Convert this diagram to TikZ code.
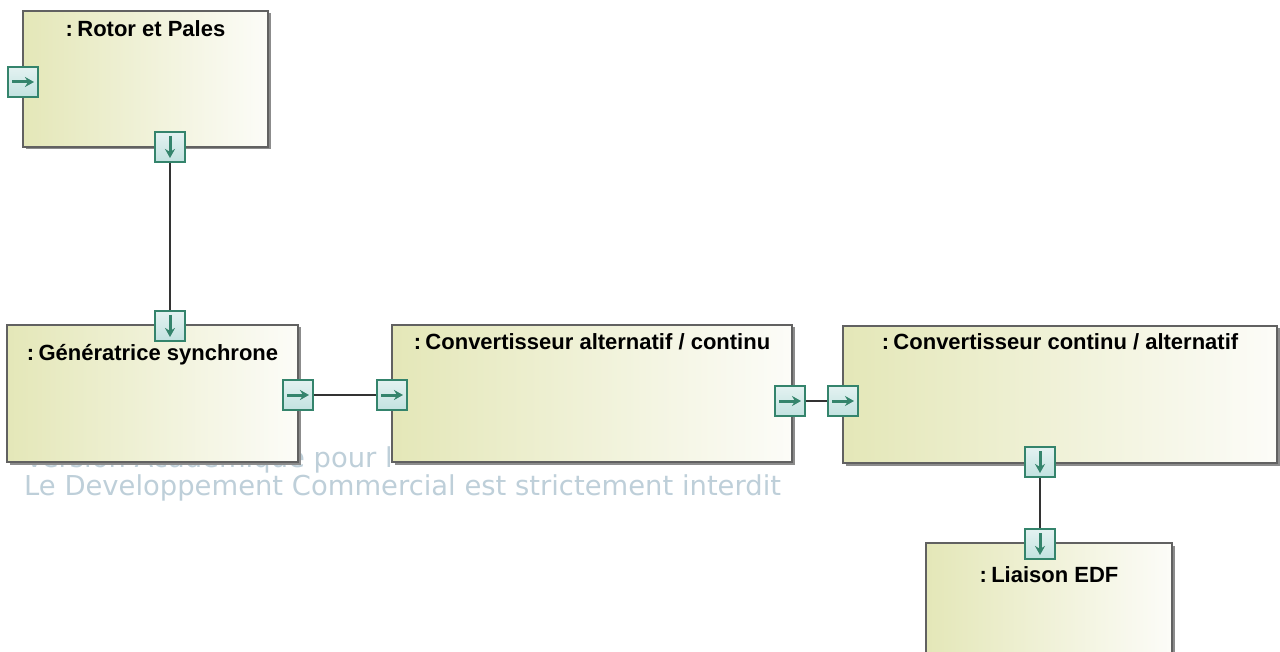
\documentclass[tikz,border=0pt]{standalone}
\usepackage{fontspec}
\setmainfont{Liberation Sans}
\newfontfamily\wmfont{DejaVu Sans}
\usetikzlibrary{shadows,arrows.meta}
\definecolor{boxleft}{RGB}{228,231,184}
\definecolor{boxright}{RGB}{252,252,248}
\definecolor{portline}{RGB}{52,132,108}
\definecolor{portfill}{RGB}{194,226,224}
\definecolor{wmgray}{RGB}{190,207,217}

\begin{document}
\begin{tikzpicture}[x=1pt,y=-1pt,
  block/.style={draw=black!62, line width=1.4pt, left color=boxleft, right color=boxright,
    drop shadow={shadow xshift=2.5pt, shadow yshift=-2.5pt, fill=black!45, opacity=1}, inner sep=0pt},
  heading/.style={font=\bfseries\fontsize{22}{26}\selectfont, inner sep=0pt},
  port/.style={draw=portline, line width=1.5pt, bottom color=portfill, top color=portfill!45!white,
    minimum size=30pt, inner sep=0pt},
  parrow/.style={draw=portline, line width=3pt, -{Stealth[length=9pt,width=10pt]}},
  rport/.style={port, path picture={\draw[parrow] ([xshift=-11pt]path picture bounding box.center) -- ([xshift=11pt]path picture bounding box.center);}},
  dport/.style={port, path picture={\draw[parrow] ([yshift=11pt]path picture bounding box.center) -- ([yshift=-11pt]path picture bounding box.center);}},
  wire/.style={draw=black!80, line width=2pt},
  wm/.style={text=wmgray, font=\wmfont\fontsize{27.4}{30}\selectfont, inner sep=0pt}]
  \useasboundingbox (0,0) rectangle (1280,652);

  % watermark
  \node[wm, anchor=base west] (wm1) at (25,467) {Version Academique pour l};
  \node[wm, anchor=base west] (wm2) at (24,495) {Le Developpement Commercial est strictement interdit};

  % parts
  \node[block, minimum width=245pt, minimum height=136pt] (rotor) at (145.5,79) {};
  \node[block, minimum width=291pt, minimum height=137pt] (gen) at (152.5,393.5) {};
  \node[block, minimum width=400pt, minimum height=137pt] (acdc) at (592,393.5) {};
  \node[block, minimum width=434pt, minimum height=137pt] (dcac) at (1060,394.5) {};
  \node[block, minimum width=246pt, minimum height=150pt] (edf) at (1049,618) {};

  \node[heading, yshift=-18pt] (rotorname) at (rotor.north) {:\hspace{0.2em}Rotor et Pales};
  \node[heading, yshift=-30pt] (genname) at (gen.north) {:\hspace{0.2em}Génératrice synchrone};
  \node[heading, yshift=-17pt] (acdcname) at (acdc.north) {:\hspace{0.2em}Convertisseur alternatif / continu};
  \node[heading, yshift=-16pt] (dcacname) at (dcac.north) {:\hspace{0.2em}Convertisseur continu / alternatif};
  \node[heading, yshift=-32pt] (edfname) at (edf.north) {:\hspace{0.2em}Liaison EDF};

  % ports
  \node[rport] (rotorin) at (23,82) {};
  \node[dport] (rotorout) at (170,147) {};
  \node[dport] (genin) at (170,326) {};
  \node[rport] (genout) at (298,395) {};
  \node[rport] (acdcin) at (392,395) {};
  \node[rport] (acdcout) at (790,401) {};
  \node[rport] (dcacin) at (843,401) {};
  \node[dport] (dcacout) at (1040,462) {};
  \node[dport] (edfin) at (1040,544) {};

  % connectors
  \draw[wire] (rotorout) -- (genin);
  \draw[wire] (genout) -- (acdcin);
  \draw[wire] (acdcout) -- (dcacin);
  \draw[wire] (dcacout) -- (edfin);
\end{tikzpicture}
\end{document}
